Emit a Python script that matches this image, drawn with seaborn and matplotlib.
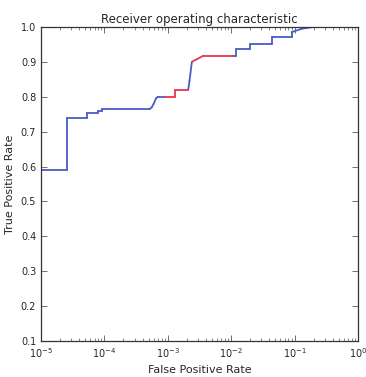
import numpy as np
import pandas as pd
import seaborn as sns
import matplotlib.pyplot as plt

### ROC curve points (step curve)
fpr = [1e-5, 2.6e-5, 2.6e-5, 5.3e-5, 5.3e-5, 7.9e-5, 7.9e-5, 9.3e-5, 9.3e-5,
       5.2e-4, 5.6e-4, 6.0e-4, 6.5e-4, 7.0e-4, 0.9e-3, 1.3e-3, 1.3e-3, 2.1e-3,
       2.2e-3, 2.4e-3, 3.6e-3, 1.05e-2, 1.2e-2, 1.2e-2, 2.0e-2, 2.0e-2, 4.4e-2,
       4.4e-2, 9.0e-2, 9.0e-2, 0.13, 0.2, 1.0]
tpr = [0.59, 0.59, 0.74, 0.74, 0.753, 0.753, 0.76, 0.76, 0.765,
       0.765, 0.77, 0.78, 0.795, 0.80, 0.80, 0.80, 0.82, 0.82,
       0.845, 0.90, 0.917, 0.917, 0.917, 0.937, 0.937, 0.95, 0.95,
       0.972, 0.972, 0.985, 0.995, 1.0, 1.0]
# which segment (ending at point i) is highlighted red
highlight = [0, 0, 0, 0, 0, 0, 0, 0, 0,
             0, 0, 0, 0, 0, 0, 1, 1, 1,
             0, 0, 1, 1, 0, 0, 0, 0, 0,
             0, 0, 0, 0, 0, 0]

rows = []
for i in range(1, len(fpr)):
    c = 'red' if highlight[i] else 'blue'
    rows.append({'seg': i, 'fpr': fpr[i - 1], 'tpr': tpr[i - 1], 'c': c})
    rows.append({'seg': i, 'fpr': fpr[i], 'tpr': tpr[i], 'c': c})
df = pd.DataFrame(rows)

sns.set_style('ticks')
plt.rcParams['font.family'] = ['DejaVu Sans']
plt.rcParams['xtick.direction'] = 'in'
plt.rcParams['ytick.direction'] = 'in'
plt.rcParams['xtick.top'] = True
plt.rcParams['ytick.right'] = True

fig = plt.figure(figsize=(3.66, 3.77), dpi=100)
ax = fig.add_axes([0.112, 0.0955, 0.866, 0.833])
sns.lineplot(data=df, x='fpr', y='tpr', hue='c', units='seg', estimator=None,
             sort=False, palette={'blue': '#4a5cc8', 'red': '#e8344e'},
             linewidth=1.3, legend=False, ax=ax)
ax.set_xscale('log')
ax.set_xlim(1e-5, 1)
ax.set_ylim(0.1, 1.0)
ax.set_yticks(np.arange(0.1, 1.01, 0.1))
ax.set_yticklabels(['0.1', '0.2', '0.3', '0.4', '0.5', '0.6', '0.7', '0.8', '0.9', '1.0'])
ax.tick_params(labelsize=7, length=4, width=0.6, color='#555555')
ax.tick_params(which='minor', length=2, width=0.5, color='#555555')
for s in ax.spines.values():
    s.set_color('#333333')
    s.set_linewidth(0.9)
ax.set_title('Receiver operating characteristic', fontsize=8.5, pad=3)
ax.set_xlabel('False Positive Rate', fontsize=8)
ax.set_ylabel('True Positive Rate', fontsize=8)
fig.savefig('out.png', dpi=100)
